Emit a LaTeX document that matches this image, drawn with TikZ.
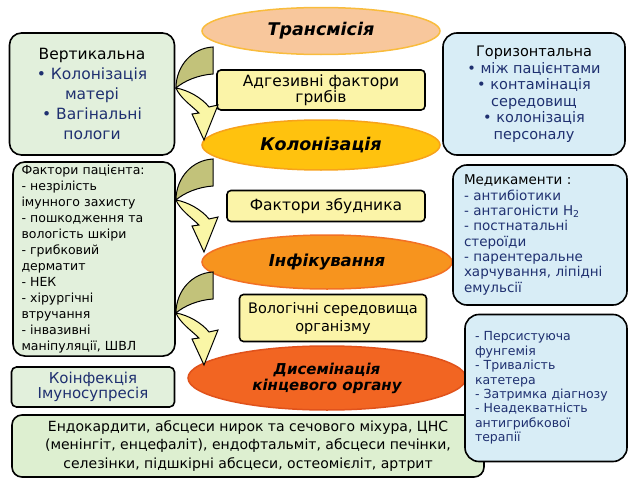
\documentclass[tikz,border=0pt]{standalone}
\usepackage{fontspec}
\setmainfont{DejaVu Sans}
\usepackage{tikz}
\usetikzlibrary{shapes.geometric}
\definecolor{peachx}{HTML}{F8C79C}
\definecolor{peachb}{HTML}{F9BC3C}
\definecolor{ambx}{HTML}{FFC20E}
\definecolor{ambb}{HTML}{F7A21B}
\definecolor{orgx}{HTML}{F7941E}
\definecolor{orgb}{HTML}{F27024}
\definecolor{redox}{HTML}{F26522}
\definecolor{redob}{HTML}{E0521B}
\definecolor{yelx}{HTML}{FBF4A8}
\definecolor{grnx}{HTML}{E2F0DC}
\definecolor{blux}{HTML}{D8EDF6}
\definecolor{botx}{HTML}{DDEFD0}
\definecolor{navyx}{HTML}{1F3070}
\definecolor{olivx}{HTML}{C2C27A}
\definecolor{lyelx}{HTML}{FAF6A6}
\tikzset{
  ell/.style={ellipse,line width=1.5pt,inner sep=0pt,align=center,font=\fontsize{17.5}{17}\selectfont\bfseries\itshape},
  ybox/.style={draw=black,line width=1.6pt,rounded corners=4pt,fill=yelx,align=center,inner sep=2pt},
  gbox/.style={draw=black,line width=1.6pt,rounded corners=12pt,fill=grnx,inner sep=3pt},
  bbox/.style={draw=black,line width=1.6pt,rounded corners=14pt,fill=blux,inner sep=3pt}
}
\newcommand{\carr}[1]{%
  \begin{scope}[shift={(#1)}]
  \filldraw[fill=olivx,draw=black,line width=1pt] (37,-41)--(37,-14) .. controls (22,-13) and (8,-7) .. (0,0) .. controls (0,-22) and (16,-40) .. (37,-41)--cycle;
  \filldraw[fill=lyelx,draw=black,line width=1pt] (0,0) .. controls (12,2) and (26,10) .. (33,19)--(42,17)--(28,52)--(16,26)--(23,25) .. controls (16,18) and (4,10) .. (0,0)--cycle;
  \end{scope}}

\begin{document}
\begin{tikzpicture}[x=1pt,y=-1pt]
\useasboundingbox (0,0) rectangle (630,479);
\node[ell,fill=peachx,draw=peachb,minimum width=238pt,minimum height=47pt] (trans) at (321,31) {Трансмісія};
\node[ybox,minimum width=208pt,minimum height=40pt,font=\fontsize{15.5}{16.5}\selectfont] (adh) at (321,90) {Адгезивні фактори\\грибів};
\node[ell,fill=ambx,draw=ambb,minimum width=238pt,minimum height=50pt] (col) at (321,145) {Колонізація};
\node[ybox,minimum width=198pt,minimum height=31pt,font=\fontsize{15.5}{16}\selectfont] (fac) at (326,206) {Фактори збудника};
\node[ell,fill=orgx,draw=orgb,minimum width=250pt,minimum height=54pt,font=\fontsize{16.5}{17}\selectfont\bfseries\itshape] (inf) at (327,262) {Інфікування};
\node[ybox,minimum width=187pt,minimum height=47pt,font=\fontsize{14.5}{18}\selectfont] (wet) at (333,318) {Вологічні середовища\\організму};
\node[ell,fill=redox,draw=redob,minimum width=278pt,minimum height=64pt,font=\fontsize{15}{16}\selectfont\bfseries\itshape] (dis) at (327,378) {Дисемінація\\кінцевого органу};
\node[gbox,minimum width=165pt,minimum height=122pt,align=center,font=\fontsize{15.5}{20}\selectfont] (vert) at (92,94) {Вертикальна\\\color{navyx}• Колонізація\\\color{navyx}матері\\\color{navyx}• Вагінальні\\\color{navyx}пологи};
\node[gbox,minimum width=162pt,minimum height=188pt,text width=145pt,align=left,font=\fontsize{12.5}{16}\selectfont] (pat) at (94,259) {Фактори пацієнта:\\- незрілість\\імунного захисту\\- пошкодження та\\вологість шкіри\\- грибковий\\дерматит\\- НЕК\\- хірургічні\\втручання\\- інвазивні\\маніпуляції, ШВЛ};
\node[gbox,rounded corners=5pt,minimum width=163pt,minimum height=40pt,align=center,text=navyx,font=\fontsize{15}{14}\selectfont] (coinf) at (93,387) {Коінфекція\\Імуносупресія};
\node[bbox,minimum width=182pt,minimum height=122pt,align=center,font=\fontsize{14.5}{16.5}\selectfont] (hor) at (534,94) {Горизонтальна\\\color{navyx}• між пацієнтами\\\color{navyx}• контамінація\\\color{navyx}середовищ\\\color{navyx}• колонізація\\\color{navyx}персоналу};
\node[bbox,minimum width=174pt,minimum height=140pt,text width=152pt,align=left,text=navyx,font=\fontsize{13.5}{15.3}\selectfont] (med) at (540,235) {\textcolor{black}{Медикаменти :}\\- антибіотики\\- антагоністи H\textsubscript{2}\\- постнатальні\\стероїди\\- парентеральне\\харчування, ліпідні\\емульсії};
\node[gbox,fill=botx,rounded corners=10pt,minimum width=472pt,minimum height=62pt,align=center,font=\fontsize{14}{18.5}\selectfont] (bot) at (248,446) {Ендокардити, абсцеси нирок та сечового міхура, ЦНС\\(менінгіт, енцефаліт), ендофтальміт, абсцеси печінки,\\селезінки, підшкірні абсцеси, остеомієліт, артрит};
\node[bbox,minimum width=162pt,minimum height=147pt,text width=142pt,align=left,text=navyx,font=\fontsize{12.5}{14.4}\selectfont] (per) at (546,388) {- Персистуюча\\фунгемія\\- Тривалість\\катетера\\- Затримка діагнозу\\- Неадекватність\\антигрибкової\\терапії};
\coordinate (p1) at (176,88);
\coordinate (p2) at (176,200);
\coordinate (p3) at (176,313);
\carr{p1}\carr{p2}\carr{p3}
\end{tikzpicture}
\end{document}
